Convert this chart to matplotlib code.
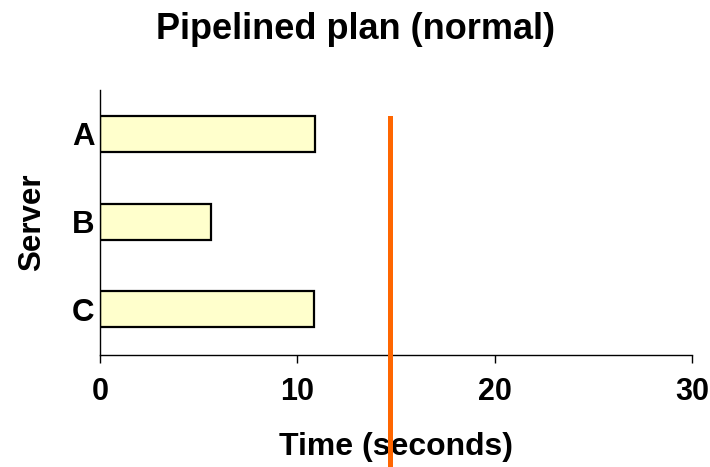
import matplotlib
matplotlib.use("Agg")
import matplotlib.pyplot as plt

servers = ["A", "B", "C"]
durations = [10.9, 5.65, 10.85]
deadline = 14.72
xticks = [0, 10, 20, 30]

plt.rcParams['font.family'] = ['Liberation Sans', 'DejaVu Sans']

fig = plt.figure(figsize=(7.1, 4.67), dpi=100)
ax = fig.add_axes([100/710, 1-355/467, 592/710, (355-90)/467])

ypos = list(range(len(servers)))
ax.barh(ypos, durations, height=0.41, color="#FFFFCC", edgecolor="black", linewidth=1.6)
ax.set_xlim(0, 30)
ax.set_ylim(2.52, -0.5)
ax.set_yticks(ypos)
ax.set_yticklabels(servers, fontsize=22.5, fontweight="bold")
ax.set_xticks(xticks)
ax.set_xticklabels([str(t) for t in xticks], fontsize=22, fontweight="bold")
ax.tick_params(axis="y", length=0, pad=4)
ax.tick_params(axis="x", length=6, width=1, direction="out", pad=10)
for s in ["top", "right"]:
    ax.spines[s].set_visible(False)
for s in ["left", "bottom"]:
    ax.spines[s].set_linewidth(1)

ax.plot([deadline, deadline], [-0.18, 3.8], color="#FF6600", linewidth=3.6, clip_on=False, zorder=5)

ax.set_xlabel("Time (seconds)", fontsize=23, fontweight="bold", labelpad=18)
ax.set_ylabel("Server", fontsize=22.5, fontweight="bold", labelpad=18)
fig.suptitle("Pipelined plan (normal)", fontsize=26, fontweight="bold", x=355/710, y=0.975)

fig.savefig("out.png", dpi=100)
